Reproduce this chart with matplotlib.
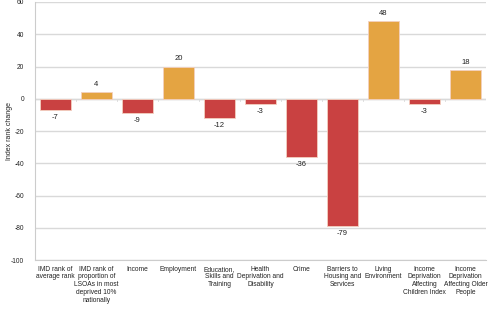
import matplotlib
matplotlib.use('Agg')
import matplotlib.pyplot as plt
import numpy as np

categories = [
    "IMD rank of\naverage rank",
    "IMD rank of\nproportion of\nLSOAs in most\ndeprived 10%\nnationally",
    "Income",
    "Employment",
    "Education,\nSkills and\nTraining",
    "Health\nDeprivation and\nDisability",
    "Crime",
    "Barriers to\nHousing and\nServices",
    "Living\nEnvironment",
    "Income\nDeprivation\nAffecting\nChildren Index",
    "Income\nDeprivation\nAffecting Older\nPeople",
]
rank_change = [-7, 4, -9, 20, -12, -3, -36, -79, 48, -3, 18]
y_ticks = [60, 40, 20, 0, -20, -40, -60, -80, -100]

RED = '#c94141'
ORANGE = '#e4a442'
GRID = '#d9d9d9'

plt.rcParams['font.family'] = ['Liberation Sans', 'DejaVu Sans']

fig = plt.figure(figsize=(5, 3.33), dpi=100)
ax = fig.add_axes([0.07, 0.219, 0.902, 0.775])

x = np.arange(len(categories))
colors = [ORANGE if v > 0 else RED for v in rank_change]
bars = ax.bar(x, rank_change, width=0.76, color=colors, edgecolor='#f3d0c0',
              linewidth=0.6, zorder=3)

for xi, v in zip(x, rank_change):
    if v >= 0:
        ax.text(xi, v + 2.5, str(v), ha='center', va='bottom', fontsize=5.5, color='#222222')
    else:
        ax.text(xi, v - 2.5, str(v), ha='center', va='top', fontsize=5.5, color='#222222')

ax.set_ylim(-100, 60)
ax.set_xlim(-0.5, len(categories) - 0.5)
ax.set_yticks(y_ticks)
ax.set_yticklabels([str(t) for t in y_ticks])
ax.yaxis.grid(True, color=GRID, linewidth=1.0, zorder=0)
ax.axhline(0, color=GRID, linewidth=1.0, zorder=1)
for b in np.arange(0.5, len(categories) - 0.5, 1.0):
    ax.plot([b, b], [0, -1.2], color=GRID, linewidth=0.6, zorder=1)

ax.set_xticks(x)
ax.set_xticklabels(categories, fontsize=4.8, color='#222222', linespacing=1.15, va='top')
ax.tick_params(axis='x', length=0, pad=4)
ax.tick_params(axis='y', length=0, labelsize=4.8, labelcolor='#222222', pad=8)

for side in ['top', 'right']:
    ax.spines[side].set_visible(False)
ax.spines['left'].set_color('#cccccc')
ax.spines['bottom'].set_color('#cccccc')
ax.spines['left'].set_linewidth(0.8)
ax.spines['bottom'].set_linewidth(0.8)

ax.set_ylabel('Index rank change', fontsize=5, color='#222222')
ax.yaxis.set_label_coords(-0.049, 0.5)

fig.savefig('out.png', dpi=100, facecolor='white')
